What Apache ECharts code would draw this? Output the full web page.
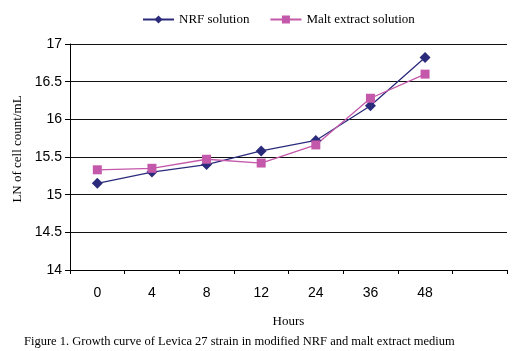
<!DOCTYPE html>
<html>
<head>
<meta charset="utf-8">
<script src="https://cdn.jsdelivr.net/npm/echarts@6/dist/echarts.min.js"></script>
<style>
  html, body { margin: 0; padding: 0; background: #fff; }
  #chart { width: 530px; height: 351px; }
</style>
</head>
<body>
<div id="chart"></div>
<script>
// hours (last slot is an empty category, as in the original plot)
var hours = ['0', '4', '8', '12', '24', '36', '48', ''];
var nrfValues = [15.15, 15.30, 15.40, 15.58, 15.72, 16.18, 16.82];
var maltValues = [15.33, 15.35, 15.47, 15.42, 15.66, 16.28, 16.60];

var NAVY = '#2b2b7c';
var PINK = '#c458aa';

var chart = echarts.init(document.getElementById('chart'));
var option = {
    animation: false,
    backgroundColor: '#fff',
    title: {
        text: 'Figure 1. Growth curve of Levica 27 strain in modified NRF and malt extract medium',
        left: 19,
        top: 330,
        textStyle: {
            fontFamily: 'Liberation Serif',
            fontSize: 12.5,
            fontWeight: 'normal',
            color: '#000'
        }
    },
    legend: {
        top: 8,
        left: 137,
        itemWidth: 31,
        itemHeight: 10,
        itemGap: 20,
        textStyle: {
            fontFamily: 'Liberation Serif',
            fontSize: 13,
            color: '#000'
        },
        data: ['NRF solution', 'Malt extract solution']
    },
    grid: {
        left: 70,
        right: 23,
        top: 44,
        bottom: 81,
        outerBoundsMode: 'none'
    },
    xAxis: {
        type: 'category',
        data: hours,
        boundaryGap: true,
        name: 'Hours',
        nameLocation: 'middle',
        nameGap: 45,
        nameTextStyle: {
            fontFamily: 'Liberation Serif',
            fontSize: 13,
            color: '#000'
        },
        axisLine: { lineStyle: { color: '#000', width: 1 } },
        axisTick: { show: true, length: 4, interval: 0, lineStyle: { color: '#000' } },
        axisLabel: {
            margin: 16,
            fontFamily: 'Liberation Sans',
            fontSize: 14,
            color: '#000'
        },
        splitLine: { show: false }
    },
    yAxis: {
        type: 'value',
        min: 14,
        max: 17,
        interval: 0.5,
        name: 'LN of cell count/mL',
        nameLocation: 'middle',
        nameGap: 45,
        nameTextStyle: {
            fontFamily: 'Liberation Serif',
            fontSize: 13,
            color: '#000',
            padding: [0, 0, 0, 16]
        },
        axisLine: { show: true, lineStyle: { color: '#000', width: 1 } },
        axisTick: { show: true, length: 5, lineStyle: { color: '#000' } },
        axisLabel: {
            margin: 8,
            fontFamily: 'Liberation Sans',
            fontSize: 14,
            color: '#000'
        },
        splitLine: { show: true, lineStyle: { color: '#111', width: 1 } }
    },
    series: [
        {
            name: 'NRF solution',
            type: 'line',
            data: nrfValues,
            symbol: 'diamond',
            symbolSize: 11,
            color: NAVY,
            lineStyle: { color: NAVY, width: 1.3 },
            itemStyle: { color: NAVY }
        },
        {
            name: 'Malt extract solution',
            type: 'line',
            data: maltValues,
            symbol: 'rect',
            symbolSize: 9,
            color: PINK,
            lineStyle: { color: PINK, width: 1.3 },
            itemStyle: { color: PINK }
        }
    ]
};
chart.setOption(option);
</script>
</body>
</html>
